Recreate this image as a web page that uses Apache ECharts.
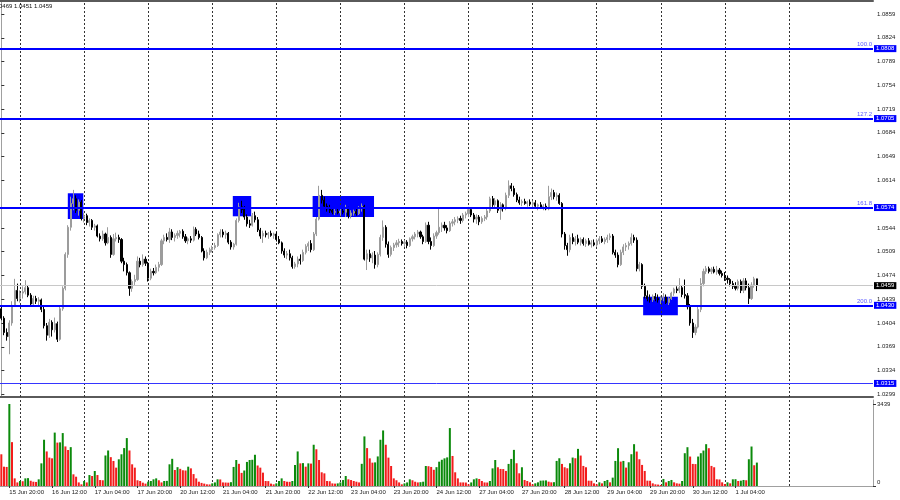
<!DOCTYPE html>
<html>
<head>
<meta charset="utf-8">
<script src="https://cdn.jsdelivr.net/npm/echarts@6/dist/echarts.min.js"></script>
<style>
  html, body { margin: 0; padding: 0; background: #fff; }
  #chart { width: 900px; height: 500px; }
</style>
</head>
<body>
<div id="chart"></div>
<script>
// EURUSD H1, 15 Jun 17:00 .. 1 Jul 12:00 -- prices in pips above 1.0000
const opens = [
  425,411,390,384,404,430,452,440,448,450, 456,445,432,440,436,438,424,400,386,405,
  394,403,380,425,455,505,545,580,587,570, 582,558,562,552,555,545,547,532,528,535,
  522,530,505,528,530,527,495,490,478,455, 465,468,495,490,498,492,470,480,478,486,
  490,525,530,527,538,530,533,536,539,531, 525,528,526,542,535,530,510,500,508,512,
  515,518,534,538,534,536,523,516,520,555, 575,571,560,550,548,562,556,541,532,536,
  534,536,533,535,527,522,510,504,506,500, 487,491,498,496,508,517,521,512,535,557,
  592,585,576,572,570,567,568,566,569,567, 572,562,566,568,565,574,576,498,506,500,
  504,490,505,530,545,520,505,515,519,522, 524,521,523,518,528,531,535,538,531,524,
  548,524,518,532,537,545,548,544,540,551, 553,556,558,555,563,565,571,563,557,560,
  553,558,560,569,587,578,584,570,578,573, 592,606,602,593,585,581,583,580,582,579,
  581,576,578,574,576,572,590,596,590,592, 580,535,518,512,530,524,528,523,527,521,
  525,520,522,519,525,528,524,527,530,532, 508,504,490,508,516,518,521,530,526,484,
  490,458,444,440,438,443,440,438,441,442, 434,440,448,454,452,456,446,444,428,404,
  390,398,424,462,480,484,480,483,479,482, 477,474,470,468,462,458,455,465,452,466,
  456,440,460,469
];
const highs = [
  428,414,396,408,436,469,462,452,458,467, 460,448,444,444,442,440,428,404,410,408,
  412,406,428,458,508,548,590,600,592,586, 585,566,565,558,557,550,549,536,540,537,
  545,533,535,537,534,529,500,493,480,468, 475,502,500,505,502,494,484,485,490,494,
  528,534,536,544,542,536,540,541,542,535, 530,532,546,545,540,532,514,512,515,518,
  522,536,542,542,540,538,526,522,558,581, 584,576,564,556,566,568,560,544,540,540,
  538,540,537,538,532,524,514,510,512,503, 494,502,505,512,520,524,526,538,560,606,
  600,590,580,578,574,572,574,572,574,578, 575,570,571,574,576,580,578,512,512,508,
  510,508,534,555,548,524,518,522,526,528, 527,526,526,530,534,538,541,540,534,552,
  553,530,536,540,572,552,553,548,554,557, 560,561,562,566,568,575,574,566,564,563,
  561,563,572,590,591,588,586,582,580,596, 614,610,606,596,590,586,587,584,586,584,
  585,580,582,579,580,606,602,600,596,595, 582,538,522,534,536,532,534,530,530,528,
  529,526,527,528,532,532,530,534,536,535, 512,508,512,520,522,524,536,534,530,494,
  492,462,452,446,446,448,446,444,448,446, 442,450,456,458,470,460,468,448,432,410,
  402,428,470,484,488,487,486,487,488,485, 481,479,474,470,466,464,468,468,470,470,
  462,464,472,469
];
const lows = [
  408,386,378,358,400,428,436,434,440,446, 442,428,428,432,430,420,396,378,382,384,
  390,376,378,422,452,500,540,570,566,562, 555,552,548,546,541,540,530,524,525,518,
  520,500,503,524,522,492,480,474,444,450, 460,466,486,487,488,465,467,474,476,480,
  488,520,524,522,526,524,528,530,528,522, 520,522,524,532,527,508,496,498,504,508,
  512,516,530,530,528,520,512,512,518,552, 566,556,546,544,546,552,538,528,522,530,
  528,531,528,524,520,506,500,498,496,484, 484,486,490,494,505,510,508,510,532,555,
  580,572,568,566,564,563,564,562,564,560, 558,558,562,562,563,568,496,482,494,492,
  484,486,502,525,515,500,502,510,515,516, 518,516,514,516,524,527,530,528,520,522,
  520,512,516,528,534,538,540,536,538,546, 548,551,550,552,558,560,560,552,550,548,
  550,554,556,566,575,572,566,556,568,570, 588,598,590,582,578,576,578,575,576,574,
  573,570,572,570,570,570,585,586,584,578, 530,512,503,508,520,518,520,518,518,516,
  518,515,517,516,520,522,520,522,526,505, 500,486,488,504,510,512,518,522,480,480,
  454,440,436,434,435,436,434,432,436,432, 430,438,444,448,448,442,440,424,400,382,
  386,396,420,458,476,477,476,477,475,474, 471,466,462,458,454,452,452,448,448,452,
  432,438,456,451
];
const closes = [
  411,390,384,404,430,452,440,448,450,456, 445,432,440,436,438,424,400,386,405,394,
  403,380,425,455,505,545,580,587,570,582, 558,562,552,555,545,547,532,528,535,522,
  530,505,528,530,527,495,490,478,455,465, 468,495,490,498,492,470,480,478,486,490,
  525,530,527,538,530,533,536,539,531,525, 528,526,542,535,530,510,500,508,512,515,
  518,534,538,534,536,523,516,520,555,575, 571,560,550,548,562,556,541,532,536,534,
  536,533,535,527,522,510,504,506,500,487, 491,498,496,508,517,521,512,535,557,592,
  585,576,572,570,567,568,566,569,567,572, 562,566,568,565,574,576,498,506,500,504,
  490,505,530,545,520,505,515,519,522,524, 521,523,518,528,531,535,538,531,524,548,
  524,518,532,537,545,548,544,540,551,553, 556,558,555,563,565,571,563,557,560,553,
  558,560,569,587,578,584,570,578,573,592, 606,602,593,585,581,583,580,582,579,581,
  576,578,574,576,572,590,596,590,592,580, 535,518,512,530,524,528,523,527,521,525,
  520,522,519,525,528,524,527,530,532,508, 504,490,508,516,518,521,530,526,484,490,
  458,444,440,438,443,440,438,441,442,434, 440,448,454,452,456,446,444,428,404,390,
  398,424,462,480,484,480,483,479,482,477, 474,470,468,462,458,455,465,452,466,456,
  440,460,469,459
];
const volumes = [
  1330,810,800,3439,1840,320,150,210,200,320, 330,220,180,170,280,950,1940,1450,1190,1160,
  2240,1820,1830,2220,1660,1510,1630,490,390,150, 70,210,150,460,420,630,460,250,240,1280,
  1490,1210,1050,770,1120,1330,1590,2010,1490,910, 770,240,210,140,100,180,210,280,320,240,
  150,210,215,910,1140,670,790,720,660,650, 810,740,500,320,180,130,100,70,65,110,
  150,280,275,150,145,140,160,800,1090,930, 550,650,1010,1090,1100,1310,860,770,560,210,
  205,100,70,110,210,320,210,180,175,210, 880,1450,950,960,810,950,940,1730,1540,1090,
  575,530,210,200,110,100,110,150,250,420, 280,250,210,180,150,930,2080,1590,1160,980,
  990,1240,1940,2330,1730,1190,840,320,240,150, 70,110,150,280,240,180,150,160,180,840,
  830,800,680,790,1020,1100,1160,1200,2430,1260, 575,320,150,150,145,70,150,280,320,295,
  210,150,145,210,740,1090,786,716,710,631, 926,1136,1515,954,533,786,253,210,154,70,
  112,154,224,230,235,182,154,160,1052,1164, 926,786,744,954,1193,1164,1557,1277,842,786,
  224,220,112,70,154,112,210,253,154,351, 1052,1585,1024,1052,772,996,1333,1754,1445,1122,
  884,631,224,220,112,70,60,42,295,154, 210,253,154,112,98,210,1375,1627,1235,926,
  920,1235,1375,1487,1754,1585,842,786,281,275, 154,84,154,112,281,285,210,224,253,240,
  1122,1656,870,982
];

const tickBars = [3, 19, 35, 51, 67, 83, 99, 115, 131, 147, 163, 179, 195, 211, 227, 243, 259, 275];
const tickLabels = ['15 Jun 20:00', '16 Jun 12:00', '17 Jun 04:00', '17 Jun 20:00', '20 Jun 12:00',
  '21 Jun 04:00', '21 Jun 20:00', '22 Jun 12:00', '23 Jun 04:00', '23 Jun 20:00', '24 Jun 12:00',
  '27 Jun 04:00', '27 Jun 20:00', '28 Jun 12:00', '29 Jun 04:00', '29 Jun 20:00', '30 Jun 12:00', '1 Jul 04:00'];
const dayStartBars = [7, 31, 55, 79, 103, 127, 151, 175, 199, 223, 247, 271, 295];
// 1.0579 sits under the 1.0574 tag, so it is left out
const priceTicks = [1.0299, 1.0334, 1.0369, 1.0404, 1.0439, 1.0474, 1.0509, 1.0544,
  1.0614, 1.0649, 1.0684, 1.0719, 1.0754, 1.0789, 1.0824, 1.0859];
const volumeTicks = [0, 3439];

const levelPrices = [1.0808, 1.0705, 1.0574, 1.0430, 1.0315];
const levelNames = ['100.0', '127.2', '161.8', '200.0', ''];
const lastPrice = 1.0459;
// highlighted zones: [fromBar, toBar, topPrice, bottomPrice]
const zones = [
  [24.9, 30.7, 1.05950, 1.05571],
  [86.7, 93.6, 1.05910, 1.05611],
  [116.6, 139.6, 1.05910, 1.05601],
  [240.4, 253.4, 1.04427, 1.04153]
];

const slotCount = 327;
const slots = Array.from({ length: slotCount }, (_, i) => String(i));
const candles = closes.map((c, i) => [opens[i], c, lows[i], highs[i]].map(v => 1 + v / 10000));
const volumeData = volumes.map((v, i) => ({
  value: v,
  itemStyle: { color: i > 0 && v > volumes[i - 1] ? '#0b8a0b' : '#f31c1c' }
}));

const font = 'Liberation Sans';
const dayLines = dayStartBars.map(b => ({ xAxis: b }));

const levelLines = [];
levelPrices.forEach((p, i) => {
  levelLines.push({
    yAxis: p,
    lineStyle: { color: i === 4 ? '#3535ff' : '#0000ff', width: i === 4 ? 1 : 2, type: 'solid' },
    label: { show: levelNames[i] !== '', position: 'insideEndTop', formatter: levelNames[i],
      color: '#5a5aff', fontSize: 6, fontFamily: font, distance: 1 }
  });
  // price tag on the axis
  levelLines.push({
    yAxis: p,
    lineStyle: { color: 'rgba(0,0,0,0)', width: 1 },
    label: { show: true, position: 'end', formatter: p.toFixed(4), color: '#fff', opacity: 1,
      backgroundColor: '#0000ff', fontSize: 6, fontFamily: font, padding: [1, 2, 0, 2], distance: 1 }
  });
});
levelLines.push({
  yAxis: lastPrice,
  lineStyle: { color: '#c8c8c8', width: 1, type: 'solid' },
  label: { show: true, position: 'end', formatter: lastPrice.toFixed(4), color: '#fff',
    backgroundColor: '#000', fontSize: 6, fontFamily: font, padding: [1, 2, 0, 2], distance: 1 }
});

const chart = echarts.init(document.getElementById('chart'), null, { renderer: 'canvas' });
chart.setOption({
  animation: false,
  backgroundColor: '#fff',
  title: {
    text: '0469 1.0451 1.0459', left: -1, top: 3, padding: 0,
    textStyle: { fontSize: 6, fontWeight: 'normal', color: '#111', fontFamily: font }
  },
  grid: [
    { left: 0, top: 1, width: 873, height: 396, outerBoundsMode: 'none' },
    { left: 0, top: 400, width: 873, height: 86, outerBoundsMode: 'none' }
  ],
  xAxis: [
    { type: 'category', gridIndex: 0, data: slots, boundaryGap: true,
      axisLine: { show: true, lineStyle: { color: '#5a5a5a', width: 2 } },
      axisTick: { show: false }, axisLabel: { show: false }, splitLine: { show: false } },
    { type: 'value', gridIndex: 0, min: -0.5, max: slotCount - 0.5, position: 'top',
      axisLine: { show: true, onZero: false, lineStyle: { color: '#5a5a5a', width: 2 } },
      axisTick: { show: false }, axisLabel: { show: false }, splitLine: { show: false } },
    { type: 'category', gridIndex: 1, data: slots, boundaryGap: true,
      axisLine: { show: true, lineStyle: { color: '#a0a0a0', width: 1 } },
      axisTick: { show: true, alignWithLabel: true, length: 2, lineStyle: { color: '#333' },
        interval: i => tickBars.includes(i) },
      axisLabel: { show: true, interval: i => tickBars.includes(i), align: 'left', margin: 3,
        fontSize: 6, color: '#1a1a1a', fontFamily: font,
        formatter: (v, i) => tickLabels[tickBars.indexOf(Number(v))] || '' },
      splitLine: { show: false } }
  ],
  yAxis: [
    { type: 'value', gridIndex: 0, position: 'right', min: 1.029502, max: 1.087814, scale: true,
      axisLine: { show: true, lineStyle: { color: '#a0a0a0', width: 1 } },
      axisTick: { show: true, length: 3, customValues: priceTicks, lineStyle: { color: '#333' } },
      axisLabel: { show: true, customValues: priceTicks, margin: 4, fontSize: 6, color: '#1a1a1a',
        fontFamily: font, formatter: v => v.toFixed(4) },
      splitLine: { show: false } },
    { type: 'value', gridIndex: 1, position: 'right', min: 0, max: 3607,
      axisLine: { show: true, lineStyle: { color: '#a0a0a0', width: 1 } },
      axisTick: { show: true, length: 3, customValues: volumeTicks, lineStyle: { color: '#333' } },
      axisLabel: { show: true, customValues: volumeTicks, margin: 4, fontSize: 6, color: '#1a1a1a',
        fontFamily: font, formatter: v => v === 0 ? '{z|0}' : String(v),
        rich: { z: { fontSize: 6, fontFamily: font, color: '#1a1a1a', padding: [0, 0, 8, 0] } } },
      splitLine: { show: false } }
  ],
  series: [
    {
      type: 'line', xAxisIndex: 1, yAxisIndex: 0, data: [], silent: true,
      markArea: {
        silent: true, z: 1,
        itemStyle: { color: '#0000ff', opacity: 1 },
        data: zones.map(z => [{ xAxis: z[0], yAxis: z[2] }, { xAxis: z[1], yAxis: z[3] }])
      },
      markLine: {
        silent: true, z: 1, symbol: ['none', 'none'], label: { show: false },
        lineStyle: { color: '#333', width: 1, type: [2, 2] },
        data: dayLines
      }
    },
    {
      type: 'candlestick', xAxisIndex: 0, yAxisIndex: 0, data: candles, z: 3, clip: false,
      barWidth: 1.6,
      itemStyle: { color: '#9c9c9c', color0: '#000', borderColor: '#9c9c9c', borderColor0: '#000', borderWidth: 1 },
      markLine: {
        silent: true, z: 6, precision: 5, symbol: ['none', 'none'], data: levelLines
      }
    },
    {
      type: 'bar', xAxisIndex: 2, yAxisIndex: 1, data: volumeData, barWidth: 2,
      markLine: {
        silent: true, z: 1, symbol: ['none', 'none'], label: { show: false },
        lineStyle: { color: '#333', width: 1, type: [2, 2] },
        data: dayLines
      }
    }
  ]
});
</script>
</body>
</html>
